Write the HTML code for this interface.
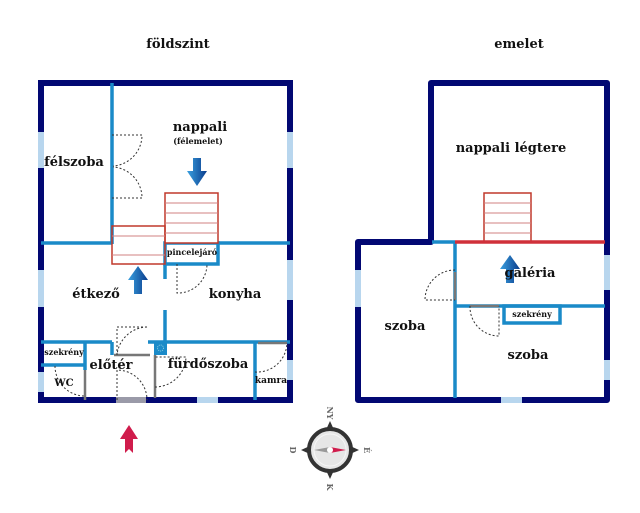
<!DOCTYPE html>
<html><head><meta charset="utf-8"><style>
html,body{margin:0;padding:0;background:#fff;}
svg{display:block}
text{font-family:"DejaVu Serif","Liberation Serif",serif;font-weight:bold;fill:#111}
</style></head><body>
<svg width="640" height="513" viewBox="0 0 640 513" xmlns="http://www.w3.org/2000/svg">
<defs>
<linearGradient id="ab" x1="0" x2="1"><stop offset="0" stop-color="#3aa0e0"/><stop offset="1" stop-color="#0a3c8c"/></linearGradient>
</defs>
<text x="178" y="48" font-size="13" text-anchor="middle">földszint</text>
<text x="519" y="48" font-size="13" text-anchor="middle">emelet</text>

<!-- ground floor outer -->
<rect x="41" y="83" width="249" height="317" fill="none" stroke="#020873" stroke-width="6"/>
<g fill="#b8d6ee">
<rect x="38" y="132" width="6" height="36"/><rect x="38" y="270" width="6" height="37"/><rect x="38" y="372" width="6" height="20"/>
<rect x="287" y="132" width="6" height="36"/><rect x="287" y="260" width="6" height="40"/><rect x="287" y="360" width="6" height="20"/>
<rect x="197" y="397" width="21" height="6"/>
</g>
<rect x="116" y="397" width="30" height="6" fill="#9a9aa8"/>
<!-- inner walls -->
<g stroke="#1a8ac8" stroke-width="3.5" fill="none">
<line x1="112" y1="83" x2="112" y2="244"/>
<line x1="41" y1="243" x2="112" y2="243"/>
<line x1="218" y1="243" x2="290" y2="243"/>
<rect x="165" y="243" width="53" height="21"/>
<line x1="165" y1="264" x2="165" y2="279"/>
<line x1="165" y1="310" x2="165" y2="343"/>
<line x1="41" y1="342" x2="112" y2="342"/>
<line x1="112" y1="342" x2="112" y2="355"/>
<line x1="148" y1="342" x2="290" y2="342"/>
<line x1="85" y1="342" x2="85" y2="370"/>
<line x1="41" y1="365" x2="85" y2="365"/>
<line x1="255" y1="342" x2="255" y2="400"/>
</g>
<rect x="154" y="341" width="13" height="14" fill="#1a8ac8"/>
<circle cx="160.5" cy="348" r="3" fill="none" stroke="#8cd" stroke-width="1" stroke-dasharray="1 1"/>
<g stroke="#777" stroke-width="2.5">
<line x1="85" y1="370" x2="85" y2="400"/><line x1="155" y1="355" x2="155" y2="398"/>
<line x1="114" y1="355" x2="150" y2="355"/><line x1="258" y1="343" x2="287" y2="343"/>
</g>
<!-- stairs -->
<g stroke="#c0392b" stroke-width="1.5" fill="#fff">
<rect x="165" y="193" width="53" height="50"/>
<rect x="112" y="226" width="53" height="38" fill="none"/>
</g>
<g stroke="#d08080" stroke-width="1">
<line x1="165" y1="203" x2="218" y2="203"/><line x1="165" y1="213" x2="218" y2="213"/><line x1="165" y1="223" x2="218" y2="223"/><line x1="165" y1="233" x2="218" y2="233"/>
<line x1="112" y1="236" x2="165" y2="236"/><line x1="112" y1="255" x2="165" y2="255"/>
</g>
<!-- doors dotted -->
<g stroke="#333" stroke-width="1" fill="none" stroke-dasharray="2 2">
<path d="M112 135 H142 A31 31 0 0 1 113 166"/>
<path d="M112 198 H142 A31 31 0 0 0 113 167"/>
<path d="M177 264 V293 A29 29 0 0 0 207 264"/>
<path d="M117 355 V327 H148 A31 31 0 0 0 117 355"/>
<path d="M117 400 V370 A30 30 0 0 1 147 400"/>
<path d="M155 387 A31 31 0 0 0 186 357 H155"/>
<path d="M255 372 A30 30 0 0 0 287 343"/>
<path d="M55 366 A30 30 0 0 0 84 396"/>
</g>
<!-- blue arrows -->
<path d="M193 158 h8 v13 h6 l-10 15 l-10 -15 h6z" fill="url(#ab)"/>
<path d="M134 294 h8 v-14 h6 l-10 -14 l-10 14 h6z" fill="url(#ab)"/>
<!-- labels ground -->
<text x="200" y="131" font-size="13" text-anchor="middle">nappali</text>
<text x="198" y="144" font-size="8" text-anchor="middle">(félemelet)</text>
<text x="74" y="166" font-size="13" text-anchor="middle">félszoba</text>
<text x="96" y="298" font-size="13" text-anchor="middle">étkező</text>
<text x="235" y="298" font-size="13" text-anchor="middle">konyha</text>
<text x="192" y="255" font-size="8" text-anchor="middle">pincelejáró</text>
<text x="64" y="355" font-size="8" text-anchor="middle">szekrény</text>
<text x="111" y="369" font-size="13" text-anchor="middle">előtér</text>
<text x="208" y="368" font-size="13" text-anchor="middle">fürdőszoba</text>
<text x="64" y="386" font-size="10" text-anchor="middle">WC</text>
<text x="271" y="383" font-size="9" text-anchor="middle">kamra</text>

<!-- upper floor -->
<path d="M431 242 V83 H607 V400 H358 V242 Z" fill="none" stroke="#020873" stroke-width="6" stroke-linejoin="round"/>
<g fill="#b8d6ee">
<rect x="355" y="270" width="6" height="37"/><rect x="604" y="255" width="6" height="35"/><rect x="604" y="360" width="6" height="20"/>
<rect x="501" y="397" width="21" height="6"/>
</g>
<rect x="484" y="193" width="47" height="49" fill="#fff" stroke="#c0392b" stroke-width="1.5"/>
<g stroke="#d08080" stroke-width="1">
<line x1="484" y1="203" x2="531" y2="203"/><line x1="484" y1="213" x2="531" y2="213"/><line x1="484" y1="223" x2="531" y2="223"/><line x1="484" y1="233" x2="531" y2="233"/>
</g>
<g stroke="#1a8ac8" stroke-width="3.5" fill="none">
<line x1="432" y1="242" x2="455" y2="242"/>
<line x1="455" y1="242" x2="455" y2="398"/>
<line x1="455" y1="306" x2="605" y2="306"/>
<rect x="504" y="306" width="56" height="17"/>
</g>
<line x1="455" y1="242" x2="605" y2="242" stroke="#d0303a" stroke-width="3.5"/>
<g stroke="#777" stroke-width="2.5"><line x1="455" y1="272" x2="455" y2="300"/><line x1="470" y1="306" x2="499" y2="306"/></g>
<g stroke="#333" stroke-width="1" fill="none" stroke-dasharray="2 2">
<path d="M455 270 A30 30 0 0 0 425 300 H455"/>
<path d="M470 306 A29 29 0 0 0 499 336 V306"/>
</g>
<path d="M506 283 h8 v-14 h6 l-10 -14 l-10 14 h6z" fill="url(#ab)"/>
<text x="511" y="152" font-size="13" text-anchor="middle">nappali légtere</text>
<text x="530" y="277" font-size="13" text-anchor="middle">galéria</text>
<text x="405" y="330" font-size="13" text-anchor="middle">szoba</text>
<text x="528" y="359" font-size="13" text-anchor="middle">szoba</text>
<text x="532" y="317" font-size="8" text-anchor="middle">szekrény</text>

<!-- red arrow -->
<path d="M125 453 l4 -4 l4 4 v-14 h5 l-9 -14 l-9 14 h5z" fill="#d01c4c"/>
<!-- compass -->
<g transform="translate(330,450)">
<path d="M0 -29 L5 -18 L-5 -18Z M0 29 L5 18 L-5 18Z M-29 0 L-18 5 L-18 -5Z M29 0 L18 5 L18 -5Z" fill="#333"/>
<circle r="21" fill="#e6e6e6" stroke="#333" stroke-width="4"/>
<circle r="16" fill="none" stroke="#f6f6f6" stroke-width="1"/>
<path d="M0 -3 L16 0 L0 3Z" fill="#d01c4c"/>
<path d="M0 -3 L-16 0 L0 3Z" fill="#999"/>
<circle r="3" fill="#fff"/>
<text font-size="8" fill="#666" text-anchor="middle" transform="translate(0,-37) rotate(90)" y="3" style="fill:#666">NY</text>
<text font-size="8" text-anchor="middle" transform="translate(0,37) rotate(90)" y="3" style="fill:#666">K</text>
<text font-size="8" text-anchor="middle" transform="translate(37,0) rotate(90)" y="3" style="fill:#666">É</text>
<text font-size="8" text-anchor="middle" transform="translate(-37,0) rotate(90)" y="3" style="fill:#666">D</text>
</g>
</svg>
</body></html>
